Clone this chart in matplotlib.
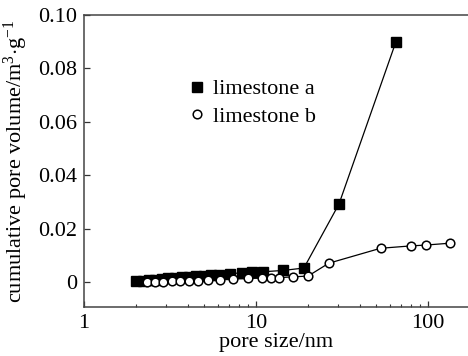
import matplotlib
matplotlib.use("Agg")
import matplotlib.pyplot as plt
from matplotlib.ticker import FixedLocator, LogLocator, NullFormatter

plt.rcParams["font.family"] = ["Liberation Serif", "DejaVu Serif"]
plt.rcParams["mathtext.fontset"] = "custom"
plt.rcParams["mathtext.rm"] = "Liberation Serif"
plt.rcParams["mathtext.it"] = "Liberation Serif:italic"

# Pore size (nm) and cumulative pore volume
size_a = [2.0, 2.2, 2.4, 2.6, 2.85, 3.1, 3.4, 3.7, 4.1, 4.5, 5.0, 5.5, 6.1,
          7.1, 8.3, 9.5, 11.0, 14.4, 19.0, 30.4, 65.0]
vol_a = [0.0003, 0.0005, 0.0007, 0.0009, 0.0011, 0.0013, 0.0015, 0.0017,
         0.0019, 0.0021, 0.0023, 0.0025, 0.0027, 0.0031, 0.0034, 0.0036,
         0.0038, 0.0043, 0.0052, 0.0292, 0.0898]

size_b = [2.32, 2.59, 2.89, 3.23, 3.61, 4.09, 4.62, 5.28, 6.18, 7.32, 9.02,
          10.9, 12.2, 13.6, 16.5, 20.1, 26.5, 53.0, 80.0, 97.0, 134.0]
vol_b = [0.0, 0.0, 0.0001, 0.0002, 0.0003, 0.0004, 0.0005, 0.0007, 0.0009,
         0.0011, 0.0013, 0.0014, 0.0015, 0.0016, 0.0019, 0.0022, 0.0070,
         0.0126, 0.0135, 0.0138, 0.0145]

y_ticks = [0, 0.02, 0.04, 0.06, 0.08, 0.10]
y_tick_labels = ["0", "0.02", "0.04", "0.06", "0.08", "0.10"]
x_ticks = [1, 10, 100]
x_tick_labels = ["1", "10", "100"]

FS = 16

fig = plt.figure(figsize=(4.68, 3.56), dpi=100)
ax = fig.add_axes([84 / 468, 1 - 307 / 356, 1 - 84 / 468, (307 - 15) / 356])

ax.plot(size_a, vol_a, color="black", lw=0.9, marker="s", ms=6.5,
        mfc="black", mec="black", label="limestone a", zorder=3)
ax.plot(size_b, vol_b, color="black", lw=0.9, marker="o", ms=6.2,
        mfc="white", mec="black", mew=1.1, label="limestone b", zorder=4)

ax.set_xscale("log")
ax.set_xlim(1, 171)
ax.set_ylim(-0.0094, 0.10)

ax.set_yticks(y_ticks)
ax.set_yticklabels(y_tick_labels)

ax.xaxis.set_major_locator(FixedLocator(x_ticks))
ax.set_xticklabels(x_tick_labels)
ax.xaxis.set_minor_locator(LogLocator(base=10, subs=range(2, 10)))
ax.xaxis.set_minor_formatter(NullFormatter())

ax.tick_params(axis="both", which="major", direction="in", length=4,
               width=0.9, labelsize=FS, colors="#333333", labelcolor="black")
ax.tick_params(axis="x", which="minor", direction="in", length=2.5,
               width=0.8, colors="#333333")
ax.tick_params(axis="x", pad=5)
ax.tick_params(axis="y", pad=5)

for side in ("left", "bottom", "top"):
    ax.spines[side].set_linewidth(1.1)
    ax.spines[side].set_color("#444444")
ax.spines["right"].set_visible(False)

ax.set_xlabel("pore size/nm", fontsize=FS, labelpad=0)
ax.set_ylabel(r"cumulative pore volume/m$^{3}$$\cdot$g$^{-1}$", fontsize=FS,
              labelpad=6)

leg = ax.legend(loc="upper left", bbox_to_anchor=(0.225, 0.85), frameon=False,
                fontsize=FS, handlelength=0.6, handletextpad=0.4,
                labelspacing=0.3, numpoints=1)
for line in leg.get_lines():
    line.set_linestyle("none")

fig.savefig("out.png", dpi=100)
